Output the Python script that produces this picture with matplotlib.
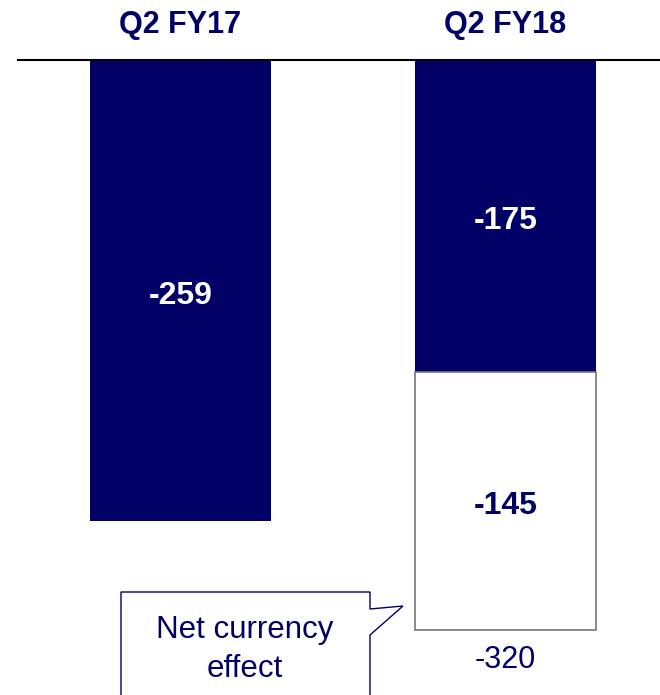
import matplotlib
matplotlib.use("Agg")
import matplotlib.pyplot as plt
from matplotlib.patches import Polygon

categories = ["Q2 FY17", "Q2 FY18"]
base_values = [-259, -175]
currency_values = [0, -145]
totals = [None, -320]
callout_lines = ["Net currency", "effect"]

NAVY = "#000066"
plt.rcParams['font.family'] = ['Liberation Sans', 'DejaVu Sans']

W, H = 660, 695
fig = plt.figure(figsize=(W / 100, H / 100), dpi=100)
ax = fig.add_axes([0, 0, 1, 1])
ax.axis('off')

px_per_unit_x = 325.0
px_per_unit_y = 570.0 / 320.0
x0_px, y0_px = 180.5, 60.0
ax.set_xlim(-x0_px / px_per_unit_x, (W - x0_px) / px_per_unit_x)
ax.set_ylim(-(H - y0_px) / px_per_unit_y, y0_px / px_per_unit_y)

def py(px):
    """pixel offset -> data units in y"""
    return px / px_per_unit_y

xs = list(range(len(categories)))
width = 181 / px_per_unit_x

ax.bar(xs, base_values, width=width, color=NAVY, edgecolor=NAVY, linewidth=0)
cx = [x for x, c in zip(xs, currency_values) if c]
cv = [c for c in currency_values if c]
cb = [b for b, c in zip(base_values, currency_values) if c]
ax.bar(cx, cv, bottom=cb, width=width, color="white",
       edgecolor="#777777", linewidth=1.2)

# baseline
ax.axhline(0, xmin=18 / W, xmax=1, color="black", lw=1.5)

# category labels
for x, c in zip(xs, categories):
    ax.text(x, py(60 - 33), c, ha='center', va='baseline',
            fontsize=22, fontweight='bold', color=NAVY)

# value labels
for x, b, c, t in zip(xs, base_values, currency_values, totals):
    ax.text(x, b / 2 - py(13), f"{b}", ha='center', va='baseline', fontsize=23,
            fontweight='bold', color='white')
    if c:
        ax.text(x, b + c / 2 - py(13), f"{c}", ha='center', va='baseline', fontsize=23,
                fontweight='bold', color=NAVY)
    if t is not None:
        ax.text(x, t - py(38), f"{t}", ha='center', va='baseline',
                fontsize=22, color=NAVY)

# callout (figure pixel coords, origin top-left converted)
pts_px = [(121, 700), (121, 592), (370, 592), (370, 609), (403, 606),
          (370, 635), (370, 700)]
pts = [(x / W, 1 - y / H) for x, y in pts_px]
poly = Polygon(pts, closed=False, transform=fig.transFigure, facecolor='white',
               edgecolor=NAVY, lw=1.0, clip_on=False)
fig.patches.append(poly)
for line, base_y in zip(callout_lines, [638, 677]):
    fig.text(245 / W, 1 - base_y / H, line, ha='center', va='baseline',
             fontsize=22.5, color=NAVY)

fig.savefig("out.png", dpi=100)
